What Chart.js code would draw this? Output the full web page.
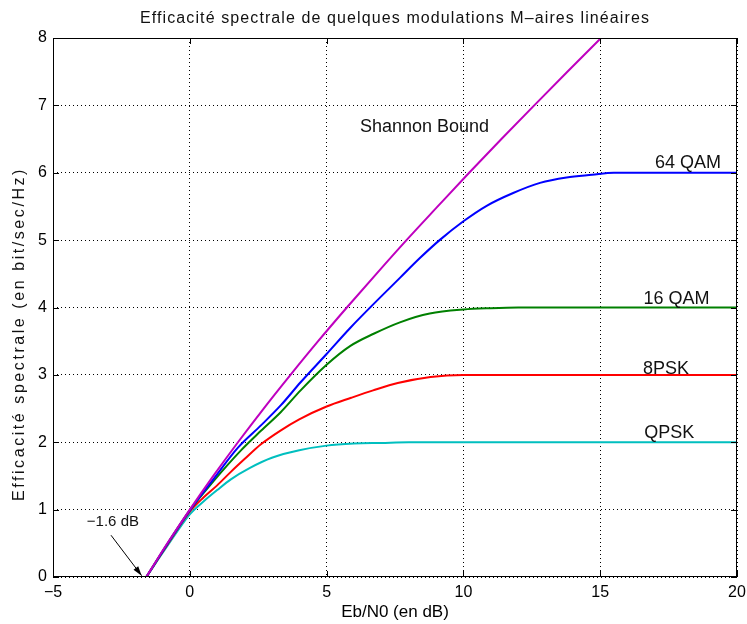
<!DOCTYPE html>
<html>
<head>
<meta charset="utf-8">
<script src="https://cdn.jsdelivr.net/npm/chart.js@4/dist/chart.umd.min.js"></script>
<style>
html, body { margin: 0; padding: 0; background: #fff; }
</style>
</head>
<body>
<canvas id="chart" width="747" height="624"></canvas>
<script>
// values (Eb/N0 in dB, efficiency in bit/s/Hz)
const shannonEbN0 = [-1.59, -1.21, -0.82, 0, 0.86, 1.76, 2.70, 3.68, 4.69, 5.74, 6.82, 7.92, 9.06, 10.21, 11.39, 12.59, 13.80, 15.03];
const shannonEff  = [0, 0.25, 0.5, 1, 1.5, 2, 2.5, 3, 3.5, 4, 4.5, 5, 5.5, 6, 6.5, 7, 7.5, 8];

const qam64EbN0 = [-1.59, -0.82, 0, 0.86, 1.76, 2.6, 3.33, 4.05, 5.0, 5.87, 6.96, 7.68, 8.4, 9.13, 10.0, 10.85, 11.82, 12.8, 13.77, 14.7, 15.5, 20];
const qam64Eff  = [0, 0.49, 0.99, 1.45, 1.92, 2.25, 2.55, 2.89, 3.31, 3.70, 4.15, 4.44, 4.73, 5.0, 5.28, 5.51, 5.70, 5.85, 5.93, 5.97, 6.0, 6.0];

const qam16EbN0 = [-1.59, -0.82, 0, 0.86, 1.87, 2.6, 3.33, 4.05, 5.0, 5.87, 6.72, 7.68, 8.77, 10.0, 11.0, 12.0, 20];
const qam16Eff  = [0, 0.49, 0.99, 1.42, 1.88, 2.17, 2.45, 2.77, 3.15, 3.43, 3.61, 3.78, 3.91, 3.97, 3.99, 4.0, 4.0];

const psk8EbN0 = [-1.59, -0.82, 0, 0.5, 1.0, 1.5, 2.0, 2.6, 3.3, 4.0, 5.0, 5.9, 6.7, 7.6, 8.8, 10, 12, 20];
const psk8Eff  = [0, 0.48, 0.97, 1.18, 1.36, 1.56, 1.75, 1.97, 2.17, 2.34, 2.53, 2.66, 2.77, 2.88, 2.97, 3.0, 3.0, 3.0];

const qpskEbN0 = [-1.59, -0.82, 0, 0.5, 1.0, 1.5, 2.2, 3.0, 4.0, 5.0, 6.0, 7.0, 8.0, 20];
const qpskEff  = [0, 0.46, 0.93, 1.12, 1.29, 1.45, 1.62, 1.77, 1.88, 1.95, 1.98, 1.99, 2.0, 2.0];

const xTicks = [-5, 0, 5, 10, 15, 20];
const yTicks = [0, 1, 2, 3, 4, 5, 6, 7, 8];

const FONT = "'Liberation Sans', Arial, Helvetica, sans-serif";

const series = [
    { label: 'Shannon Bound', xs: shannonEbN0, ys: shannonEff, color: '#bf00bf' },
    { label: '64 QAM', xs: qam64EbN0, ys: qam64Eff, color: '#0000ff' },
    { label: '16 QAM', xs: qam16EbN0, ys: qam16Eff, color: '#008000' },
    { label: '8PSK', xs: psk8EbN0, ys: psk8Eff, color: '#ff0000' },
    { label: 'QPSK', xs: qpskEbN0, ys: qpskEff, color: '#00bfbf' }
];

// text placed in data units
const notes = [
    { text: 'Shannon Bound', x: 6.22, y: 6.68 },
    { text: '64 QAM', x: 17.0, y: 6.15 },
    { text: '16 QAM', x: 16.58, y: 4.13 },
    { text: '8PSK', x: 16.56, y: 3.09 },
    { text: 'QPSK', x: 16.61, y: 2.14 }
];

function spacedText(ctx, text, cx, cy, width) {
    const hasSpacing = 'letterSpacing' in ctx;
    if (hasSpacing) ctx.letterSpacing = '0px';
    const w = ctx.measureText(text).width;
    ctx.textAlign = 'left';
    ctx.textBaseline = 'middle';
    if (hasSpacing) {
        ctx.letterSpacing = ((width - w) / text.length) + 'px';
        ctx.fillText(text, cx - width / 2, cy);
        ctx.letterSpacing = '0px';
    } else {
        ctx.save();
        ctx.translate(cx - width / 2, cy);
        ctx.scale(width / w, 1);
        ctx.fillText(text, 0, 0);
        ctx.restore();
    }
}

const matlabFrame = {
    id: 'matlabFrame',
    beforeDraw(chart) {
        const ctx = chart.ctx;
        ctx.save();
        ctx.fillStyle = '#fff';
        ctx.fillRect(0, 0, chart.width, chart.height);
        ctx.restore();
    },
    afterDatasetsDraw(chart) {
        const ctx = chart.ctx;
        const a = chart.chartArea;
        const xs = chart.scales.x, ys = chart.scales.y;
        ctx.save();

        // box and inward ticks
        ctx.strokeStyle = '#000';
        ctx.lineWidth = 1;
        ctx.strokeRect(a.left + 0.5, a.top + 0.5, a.right - a.left - 1, a.bottom - a.top - 1);
        ctx.beginPath();
        xTicks.forEach(v => {
            const px = Math.round(xs.getPixelForValue(v)) + 0.5;
            ctx.moveTo(px, a.bottom); ctx.lineTo(px, a.bottom - 6);
            ctx.moveTo(px, a.top); ctx.lineTo(px, a.top + 6);
        });
        yTicks.forEach(v => {
            const py = Math.round(ys.getPixelForValue(v)) + 0.5;
            ctx.moveTo(a.left, py); ctx.lineTo(a.left + 6, py);
            ctx.moveTo(a.right, py); ctx.lineTo(a.right - 6, py);
        });
        ctx.stroke();

        // curve names
        ctx.fillStyle = '#111';
        ctx.font = '18px ' + FONT;
        ctx.textAlign = 'left';
        ctx.textBaseline = 'middle';
        notes.forEach(n => {
            ctx.fillText(n.text, xs.getPixelForValue(n.x), ys.getPixelForValue(n.y));
        });

        // -1.6 dB arrow
        const x1 = xs.getPixelForValue(-2.88), y1 = ys.getPixelForValue(0.62);
        const x2 = xs.getPixelForValue(-1.76), y2 = ys.getPixelForValue(0.02);
        ctx.beginPath();
        ctx.moveTo(x1, y1); ctx.lineTo(x2, y2);
        ctx.stroke();
        const ang = Math.atan2(y2 - y1, x2 - x1);
        ctx.beginPath();
        ctx.moveTo(x2, y2);
        ctx.lineTo(x2 - 10 * Math.cos(ang - 0.3), y2 - 10 * Math.sin(ang - 0.3));
        ctx.lineTo(x2 - 10 * Math.cos(ang + 0.3), y2 - 10 * Math.sin(ang + 0.3));
        ctx.closePath();
        ctx.fillStyle = '#000';
        ctx.fill();
        ctx.fillStyle = '#111';
        ctx.font = '15px ' + FONT;
        ctx.textAlign = 'center';
        ctx.fillText('\u22121.6 dB', xs.getPixelForValue(-2.81), ys.getPixelForValue(0.82));

        // title
        ctx.font = '16px ' + FONT;
        spacedText(ctx, 'Efficacit\u00e9 spectrale de quelques modulations M\u2013aires lin\u00e9aires', (a.left + a.right) / 2, 19, 510);

        // y axis title
        ctx.save();
        ctx.translate(20, 334);
        ctx.rotate(-Math.PI / 2);
        spacedText(ctx, 'Efficacit\u00e9 spectrale (en bit/sec/Hz)', 0, 0, 334);
        ctx.restore();

        ctx.restore();
    }
};

const tickFont = { family: FONT, size: 16 };

new Chart(document.getElementById('chart'), {
    type: 'scatter',
    data: {
        datasets: series.map(s => ({
            label: s.label,
            data: s.xs.map((x, i) => ({ x: x, y: s.ys[i] })),
            borderColor: s.color,
            backgroundColor: s.color,
            borderWidth: 2,
            pointRadius: 0,
            showLine: true,
            fill: false,
            cubicInterpolationMode: 'monotone'
        }))
    },
    options: {
        responsive: false,
        animation: false,
        layout: { padding: { left: 0, right: 10, top: 38, bottom: 0 } },
        plugins: {
            legend: { display: false },
            tooltip: { enabled: false },
            title: { display: false }
        },
        scales: {
            x: {
                type: 'linear',
                min: -5,
                max: 20,
                ticks: {
                    stepSize: 5,
                    color: '#000',
                    font: tickFont,
                    padding: 6,
                    maxRotation: 0,
                    callback: v => v < 0 ? '\u2212' + Math.abs(v) : String(v)
                },
                grid: { color: '#000', lineWidth: 1, drawTicks: false },
                border: { display: false, dash: [1, 3] },
                title: {
                    display: true,
                    text: 'Eb/N0 (en dB)',
                    color: '#000',
                    font: { family: FONT, size: 17 },
                    padding: { top: 0, bottom: 1 }
                },
                afterFit: s => { s.height = 47; s.paddingLeft = 0; s.paddingRight = 0; }
            },
            y: {
                min: 0,
                max: 8,
                ticks: { stepSize: 1, color: '#000', font: tickFont, padding: 6 },
                grid: { color: '#000', lineWidth: 1, drawTicks: false },
                border: { display: false, dash: [1, 3] },
                afterFit: s => { s.width = 53; s.paddingTop = 0; s.paddingBottom = 0; }
            }
        }
    },
    plugins: [matlabFrame]
});
</script>
</body>
</html>
